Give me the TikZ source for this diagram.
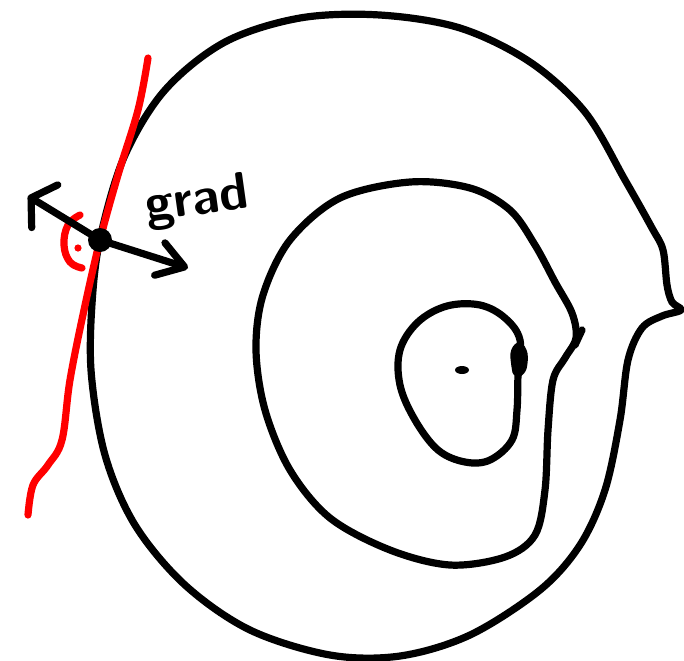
\documentclass[tikz,border=0pt]{standalone}
\usepackage{xcolor}
\definecolor{sketchRed}{HTML}{FF0000}
\usetikzlibrary{arrows.meta}

\begin{document}
\begin{tikzpicture}[x=0.5pt, y=-0.5pt,
  pen/.style={line width=3.6pt, line cap=round, line join=round},
  contour/.style={pen, black},
  tangent/.style={pen, sketchRed},
  gradhead/.style={-{Straight Barb[length=13pt, width=17pt, round]}},
  backhead/.style={-{Straight Barb[length=8pt, width=25pt, round]}}]
  \useasboundingbox (0,0) rectangle (684,660);
  % ---- level curves ----
  \draw[contour] plot[smooth cycle, tension=0.55] coordinates {
    (380,15) (460,28) (530,62) (585,112) (625,180) (652,228) (663,250)
    (667,285) (672,302) (681,310) (662,316) (642,328) (628,360) (620,420) (605,490)
    (580,545) (540,590) (470,635) (400,656) (330,655) (250,630) (185,585)
    (135,525) (105,455) (91,370) (93,290) (102,230) (125,155) (165,90)
    (225,42) (300,18)};
  \draw[contour] plot[smooth cycle, tension=0.55] coordinates {
    (410,182) (470,188) (510,210) (535,245) (555,282) (572,313) (576,338)
    (565,358) (553,380) (548,430) (545,490) (535,535) (505,557) (450,565)
    (390,550) (330,518) (290,470) (265,410) (256,350) (263,295) (290,240)
    (340,198)};
  \draw[contour] (582,330) -- (575,345);
  \draw[contour] plot[smooth cycle, tension=0.6] coordinates {
    (447,306) (480,305) (505,318) (520,340) (518,375) (517,410) (512,440)
    (490,460) (465,462) (438,450) (415,420) (400,385) (400,350) (418,322)};
  \draw[contour] plot[smooth, tension=0.6] coordinates {
    (516,372) (514,354) (519,346) (524,354) (523,368) (518,374)};
  \fill (462,370) ellipse[x radius=3.5pt, y radius=2pt];
  % ---- tangent and right angle ----
  \draw[tangent] plot[smooth, tension=0.6] coordinates {
    (148,58) (138,110) (118,175) (100,240) (84,310) (70,380) (62,440)
    (48,465) (33,485) (28,515)};
  \draw[tangent] plot[smooth, tension=0.7] coordinates {
    (80,215) (68,225) (64,245) (70,262) (82,268)};
  \fill[sketchRed] (78,248) circle[radius=1.8pt];
  % ---- gradient at the point ----
  \coordinate (p) at (100,240);
  \coordinate (gradTip) at (188,268);
  \coordinate (backTip) at (28,196);
  \fill (p) circle[radius=6pt];
  \draw[pen, gradhead] (p) -- (gradTip);
  \draw[pen, backhead] (p) -- (backTip);
  \node[font=\fontsize{26}{28}\selectfont\sffamily\bfseries, rotate=8] (gradLabel) at (197,202) {grad};
\end{tikzpicture}
\end{document}
